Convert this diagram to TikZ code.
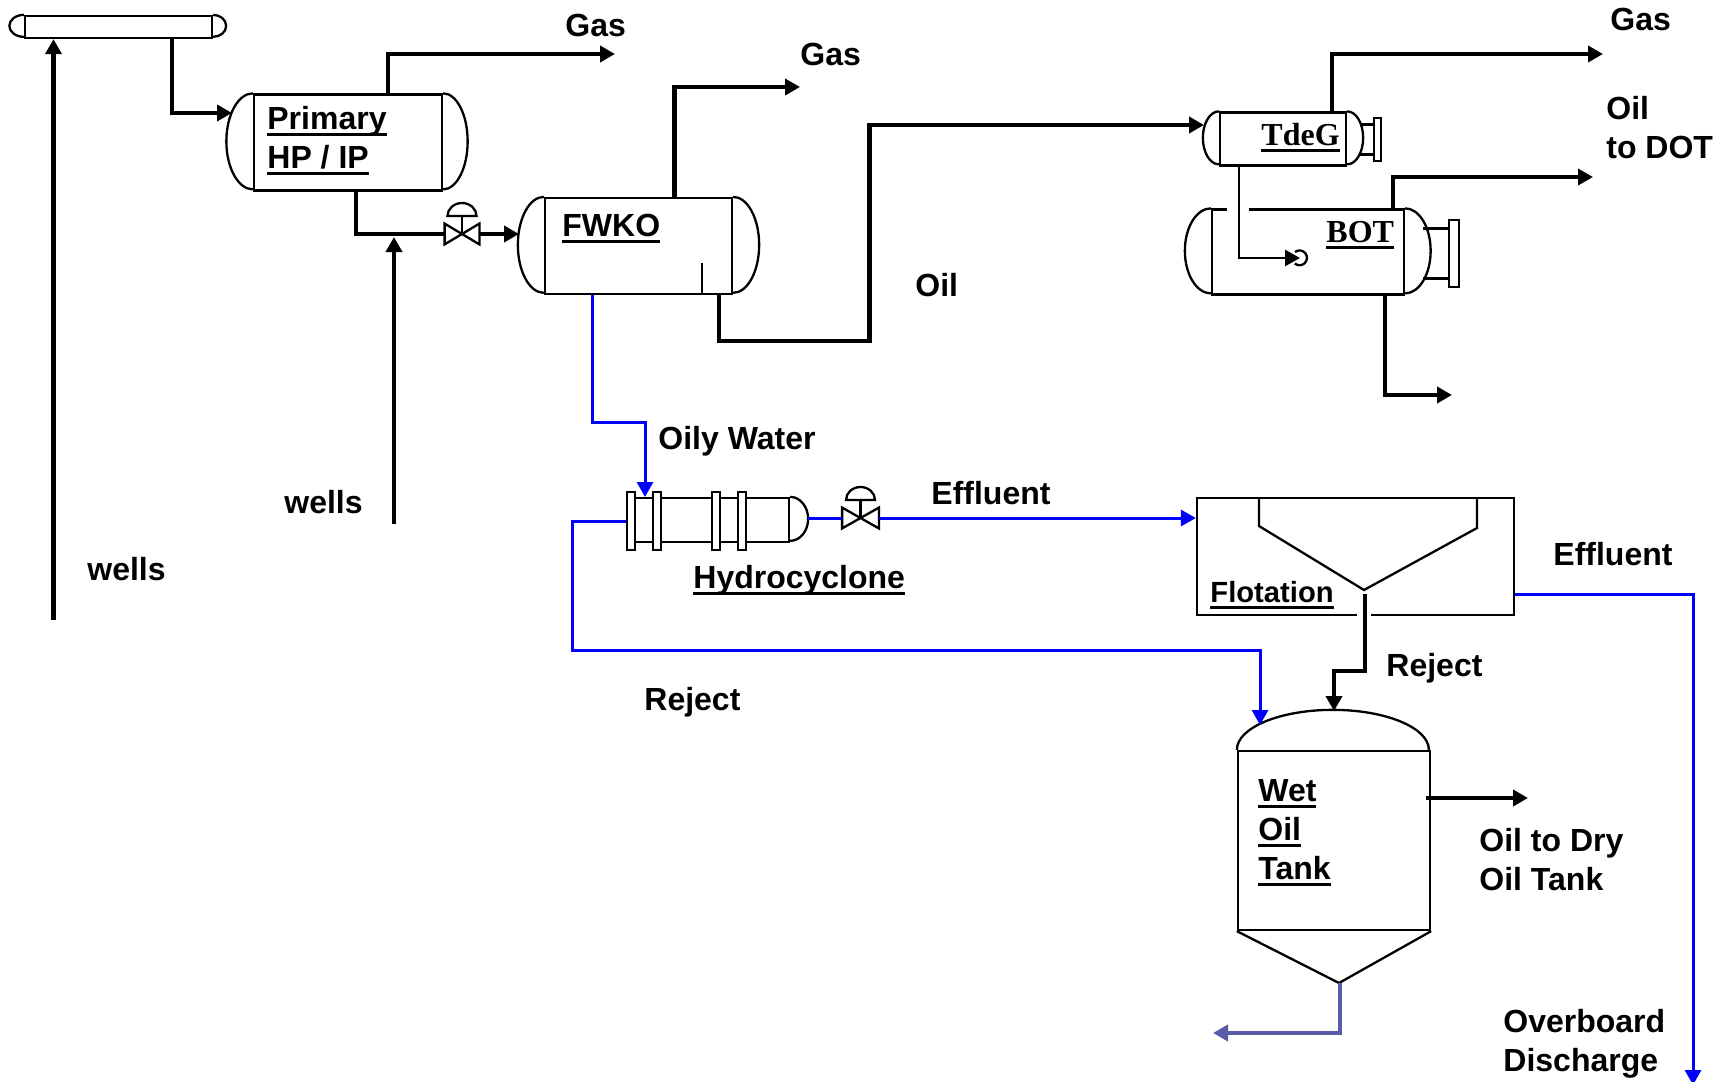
\documentclass[tikz,border=0pt]{standalone}
\usepackage{fontspec}
\setmainfont{Liberation Sans}
\newfontfamily\serifname{Liberation Serif}
\usetikzlibrary{arrows.meta}

\tikzset{
  shell/.style={draw=black, line width=1.15pt},
  vessel/.style={shell, inner sep=0pt},
  flange/.style={shell, fill=white, inner sep=0pt, minimum width=4pt, minimum height=29pt},
  heavy/.style={line width=2.2pt, black},
  wet/.style={line width=1.5pt, blue},
  sludge/.style={line width=2.4pt, color={rgb,255:red,91;green,91;blue,168}},
  lbl/.style={inner sep=0pt, anchor=base west, align=left, font=\bfseries\fontsize{16}{19.4}\selectfont},
  tag/.style={inner sep=0pt, anchor=base west, font=\serifname\bfseries\fontsize{16}{19}\selectfont},
}

\newcommand{\ubar}[1]{\setbox0\hbox{#1}\rlap{\rule[-3.4pt]{\wd0}{1.5pt}}\box0}
\newcommand{\vesselcaps}[4]{
  \draw[shell] (#1.north west) arc[start angle=90, end angle=270, x radius=#2pt, y radius=#4pt];
  \draw[shell] (#1.north east) arc[start angle=90, end angle=-90, x radius=#3pt, y radius=#4pt];
}
\newcommand{\valve}[1]{
  \draw[shell] (#1.north west) -- (#1.south east) -- (#1.north east) -- (#1.south west) -- cycle;
  \draw[shell] (#1.center) -- ([yshift=9pt]#1.center);
  \draw[shell] ([shift={(-7.25pt,9pt)}]#1.center) arc[start angle=180, end angle=0, x radius=7.25pt, y radius=6.5pt] -- cycle;
}

\begin{document}
\begin{tikzpicture}[x=0.5pt, y=-0.5pt, >={Triangle[length=7.5pt,width=8pt]}]
\useasboundingbox (0,0) rectangle (1728,1081);

% vessels
\node[vessel, minimum width=93.5pt, minimum height=11pt] (Header) at (118.5,27) {};
\node[vessel, minimum width=94pt, minimum height=48pt] (Primary) at (348,142.5) {};
\node[vessel, minimum width=93.5pt, minimum height=48pt] (FWKO) at (638.5,246) {};
\node[vessel, minimum width=63pt, minimum height=26.5pt] (TdeG) at (1283,139) {};
\node[vessel, minimum width=96pt, minimum height=42.5pt] (BOT) at (1308,252) {};
\node[vessel, minimum width=79pt, minimum height=22pt] (Hydro) at (710,520) {};
\node[vessel, minimum width=158.5pt, minimum height=58.5pt] (Flotation) at (1355.5,556.5) {};
\node[vessel, minimum width=96pt, minimum height=89.5pt] (Tank) at (1334,840.5) {};

\vesselcaps{Header}{7.25}{6.5}{5.5}
\vesselcaps{Primary}{13.25}{12.25}{24}
\vesselcaps{FWKO}{13}{13}{24}
\vesselcaps{TdeG}{8}{8}{13.25}
\vesselcaps{BOT}{13}{12.75}{21.25}

% vessel details
\draw[shell] (702,263) -- ([xshift=31.75pt]FWKO.south);
\draw[shell] (Hydro.north east) arc[start angle=90, end angle=-90, x radius=9pt, y radius=11pt];
\draw[white, line width=2.4pt] (1227,210) -- (1249,210);
\draw[white, line width=2.4pt] (1357,615) -- (1371,615);
\draw[shell] (1259,498) -- (1259,526) -- (1364,590) -- (1477,528) -- (1477,498);
\draw[shell] (Tank.north west) arc[start angle=180, end angle=0, x radius=48pt, y radius=20pt];
\coordinate (TankBot) at (1339,983);
\draw[shell] (Tank.south west) -- (TankBot) -- (Tank.south east);

% flanges
\foreach \n/\x in {FA/631, FB/657, FC/716, FD/742}
  \node[flange] (\n) at (\x,521) {};
\node[flange, minimum width=3.5pt, minimum height=21.5pt] (TdeGF) at (1377.5,139.5) {};
\node[flange, minimum width=5pt, minimum height=33.5pt] (BOTF) at (1454,253.5) {};
\draw[shell] ([yshift=7.5pt]TdeGF.west) -- +(-13,0);
\draw[shell] ([yshift=-7.5pt]TdeGF.west) -- +(-13,0);
\draw[shell] ([yshift=12.5pt]BOTF.west) -- +(-25,0);
\draw[shell] ([yshift=-12.5pt]BOTF.west) -- +(-25,0);

% valves
\node[inner sep=0pt, minimum width=17pt, minimum height=10pt] (ValveA) at (462,234) {};
\node[inner sep=0pt, minimum width=18pt, minimum height=10pt] (ValveB) at (860.5,518) {};
\valve{ValveA}
\valve{ValveB}

% free ends
\coordinate (WellsA) at (53.5,620);
\coordinate (WellsB) at (394,524);
\coordinate (JoinB) at (394,237);
\coordinate (PrimIn) at (232,113);
\coordinate (FWKOIn) at (519,234);
\coordinate (GasA) at (615,54);
\coordinate (GasB) at (800,87);
\coordinate (GasC) at (1603,54);
\coordinate (OilBend) at (869.5,341);
\coordinate (TdeGIn) at (1204,125);
\coordinate (BOTIn) at (1300,258);
\coordinate (OilDOT) at (1593,177);
\coordinate (BOTOut) at (1452,395);
\coordinate (WaterBend) at (645,422);
\coordinate (HydroIn) at (645,497);
\coordinate (HydroOut) at (808,518);
\coordinate (RejBend) at (572,650);
\coordinate (TankIn) at (1260,725);
\coordinate (Overboard) at (1693,1085);
\coordinate (FloatOut) at (1365,594);
\coordinate (FloatBend) at (1334,671);
\coordinate (TankTop) at (1334,711);
\coordinate (OilDry) at (1528,798);
\coordinate (Drain) at (1213,1033);

% arrows
\draw[->, heavy] (WellsA) -- (WellsA |- Header.south);
\draw[->, heavy] (WellsB) -- (JoinB);
\draw[->, heavy] ([xshift=26.75pt]Header.south) |- (PrimIn);
\draw[->, heavy] ([xshift=20pt]Primary.north) |- (GasA);
\draw[heavy] ([xshift=4pt]Primary.south) |- (ValveA.west);
\draw[->, heavy] (ValveA.east) -- (FWKOIn);
\draw[->, heavy] ([xshift=18pt]FWKO.north) |- (GasB);
\draw[->, heavy] ([xshift=40.25pt]FWKO.south) |- (OilBend) |- (TdeGIn);
\draw[->, heavy] ([xshift=24.5pt]TdeG.north) |- (GasC);
\draw[->, shell] ([xshift=-22pt]TdeG.south) |- (BOTIn);
\draw[shell] ([shift={(-2.5pt,3pt)}]BOTIn) arc[start angle=128, end angle=-130, radius=3.7pt];
\draw[->, heavy] ([xshift=42.5pt]BOT.north) |- (OilDOT);
\draw[->, heavy] ([xshift=38.5pt]BOT.south) |- (BOTOut);
\draw[->, wet] ([xshift=-23.25pt]FWKO.south) |- (WaterBend) -- (HydroIn);
\draw[wet] (HydroOut) -- (ValveB.west);
\draw[->, wet] (ValveB.east) -- (ValveB.east -| Flotation.west);
\draw[->, wet] (FA.west) -| (RejBend) -| (TankIn);
\draw[->, wet] ([yshift=-18.75pt]Flotation.east) -| (Overboard);
\draw[->, heavy] (FloatOut) |- (FloatBend) -- (TankTop);
\draw[->, heavy] ([shift={(-2.5pt,21.25pt)}]Tank.east) -- (OilDry);
\draw[->, sludge] (TankBot) ++(1,0) |- (Drain);

% labels
\node[lbl] (LGasA) at (565,36.5) {Gas};
\node[lbl] (LGasB) at (800,65.5) {Gas};
\node[lbl] (LGasC) at (1610,31) {Gas};
\node[lbl] (LDOT) at (1606,158) {Oil\\to DOT};
\node[lbl] (LOil) at (915,296) {Oil};
\node[lbl] (LWater) at (658,449) {Oily Water};
\node[lbl] (LWellsA) at (87,580) {wells};
\node[lbl] (LWellsB) at (284,513) {wells};
\node[lbl] (LEffA) at (931,504) {Effluent};
\node[lbl] (LEffB) at (1553,565) {Effluent};
\node[lbl] (LRejA) at (644,710) {Reject};
\node[lbl] (LRejB) at (1386,676) {Reject};
\node[lbl] (LDry) at (1479,890) {Oil to Dry\\Oil Tank};
\node[lbl] (LBoard) at (1503,1071) {Overboard\\Discharge};
\node[lbl] (LPrimary) at (267,168) {\ubar{Primary}\\\ubar{HP / IP}};
\node[lbl] (LFWKO) at (562,236) {\ubar{FWKO}};
\node[lbl] (LHydro) at (693,588) {\ubar{Hydrocyclone}};
\node[lbl, font=\bfseries\fontsize{14.6}{18}\selectfont] (LFloat) at (1210,602) {\ubar{Flotation}};
\node[lbl] (LWet) at (1258,879) {\ubar{Wet}\\\ubar{Oil}\\\ubar{Tank}};
\node[tag] (LTdeG) at (1261,145) {\ubar{TdeG}};
\node[tag] (LBOT) at (1326,242) {\ubar{BOT}};

\end{tikzpicture}
\end{document}
